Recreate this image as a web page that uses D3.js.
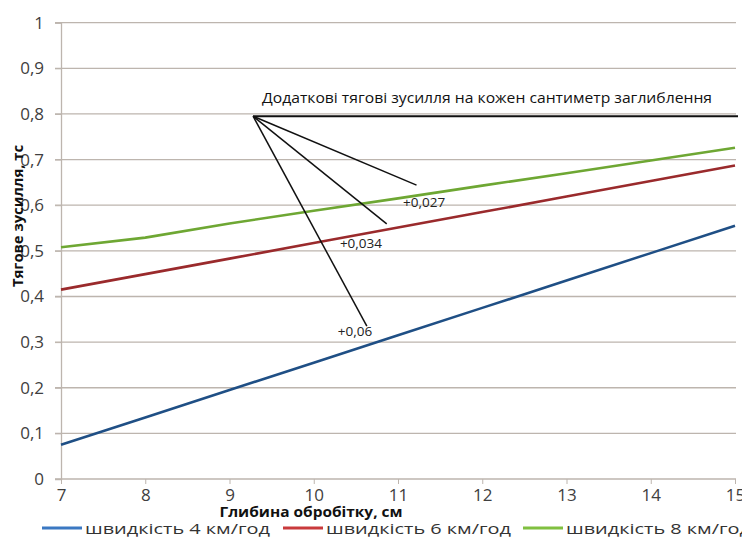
<!DOCTYPE html>
<html><head><meta charset="utf-8">
<script src="https://cdn.jsdelivr.net/npm/d3@7"></script>
<style>body{margin:0;background:#fff}svg{display:block}</style>
</head><body>
<script>
const depths = [7, 8, 9, 10, 11, 12, 13, 14, 15];
const speed4 = [0.075, 0.135, 0.195, 0.255, 0.315, 0.375, 0.435, 0.495, 0.555];
const speed6 = [0.415, 0.449, 0.483, 0.517, 0.551, 0.585, 0.619, 0.653, 0.687];
const speed8 = [0.508, 0.529, 0.560, 0.588, 0.615, 0.643, 0.670, 0.698, 0.726];
const seriesNames = ["швидкість 4 км/год", "швидкість 6 км/год", "швидкість 8 км/год"];
const yTicks = [0, 0.1, 0.2, 0.3, 0.4, 0.5, 0.6, 0.7, 0.8, 0.9, 1];
const xTicks = [7, 8, 9, 10, 11, 12, 13, 14, 15];
const refLevel = 0.795;
const refStart = 9.28;
const increments = ["+0,027", "+0,034", "+0,06"];
const arrowEnds = [[11.22, 0.644], [10.866, 0.559], [10.63, 0.335]];
const labelPos = [[11.31, 0.607], [10.56, 0.517], [10.49, 0.324]];
const noteText = "Додаткові тягові зусилля на кожен сантиметр  заглиблення";
const xTitle = "Глибина обробітку, см";
const yTitle = "Тягове зусилля, тс";

const W = 742, H = 537;
const svg = d3.select("body").append("svg").attr("width", W).attr("height", H);
const font = "'Open Sans', 'Noto Sans', sans-serif";
const x = d3.scaleLinear().domain([7, 15]).range([61, 735]);
const y = d3.scaleLinear().domain([0, 1]).range([479, 22.7]);
const lineColors = ["#1f4f85", "#9a2a2c", "#6ea733"];
const legendColors = ["#3b78c2", "#c93a3c", "#80c040"];

// gridlines
svg.append("g").selectAll("line").data(yTicks).join("line")
  .attr("x1", 55).attr("x2", 736)
  .attr("y1", d => y(d)).attr("y2", d => y(d))
  .attr("stroke", "#bdb5ae").attr("stroke-width", 1.3);

// y axis
const yAxis = svg.append("g").attr("transform", "translate(61,0)")
  .call(d3.axisLeft(y).tickValues(yTicks).tickSize(6).tickPadding(11)
    .tickFormat(d => d3.format(".1~f")(d).replace(".", ",")));
yAxis.select(".domain").attr("stroke", "#bdb5ae").attr("stroke-width", 1.3);
yAxis.selectAll(".tick line").attr("stroke", "#bdb5ae");
yAxis.selectAll("text").attr("font-family", font).attr("font-size", 17).attr("fill", "#404040");

// x axis
const xAxis = svg.append("g").attr("transform", "translate(0,479)")
  .call(d3.axisBottom(x).tickValues(xTicks).tickSize(5).tickPadding(5).tickFormat(d3.format("d")));
xAxis.select(".domain").remove();
xAxis.selectAll(".tick line").attr("stroke", "#bdb5ae");
xAxis.selectAll("text").attr("font-family", font).attr("font-size", 17).attr("fill", "#404040");

// series
const series = [speed4, speed6, speed8];
const line = d3.line().x((d, i) => x(depths[i])).y(d => y(d));
series.forEach((s, k) => {
  svg.append("path").datum(s).attr("d", line)
    .attr("fill", "none").attr("stroke", lineColors[k]).attr("stroke-width", 2.6);
});

// reference line at 0.8
svg.append("line").attr("x1", x(refStart)).attr("x2", x(15) + 3)
  .attr("y1", y(refLevel)).attr("y2", y(refLevel))
  .attr("stroke", "#111").attr("stroke-width", 2);

// annotation rays
arrowEnds.forEach(e => {
  svg.append("line").attr("x1", x(refStart)).attr("y1", y(refLevel))
    .attr("x2", x(e[0])).attr("y2", y(e[1]))
    .attr("stroke", "#111").attr("stroke-width", 1.5);
});
labelPos.forEach((p, i) => {
  svg.append("text").attr("x", x(p[0])).attr("y", y(p[1]))
    .attr("text-anchor", "middle").attr("dominant-baseline", "central")
    .attr("font-family", font).attr("font-size", 13.5).attr("fill", "#222")
    .text(increments[i]);
});

svg.append("text").attr("x", 262).attr("y", 97)
  .attr("dominant-baseline", "central")
  .attr("font-family", font).attr("font-size", 14).attr("fill", "#111")
  .attr("textLength", 450).attr("lengthAdjust", "spacingAndGlyphs")
  .text(noteText);

// axis titles
svg.append("text").attr("x", 311).attr("y", 511)
  .attr("text-anchor", "middle").attr("dominant-baseline", "central")
  .attr("font-family", font).attr("font-weight", "bold").attr("font-size", 15).attr("fill", "#111")
  .attr("textLength", 183).attr("lengthAdjust", "spacingAndGlyphs")
  .text(xTitle);
svg.append("text").attr("transform", "translate(17,216) rotate(-90)")
  .attr("text-anchor", "middle").attr("dominant-baseline", "central")
  .attr("font-family", font).attr("font-weight", "bold").attr("font-size", 15).attr("fill", "#111")
  .attr("textLength", 142).attr("lengthAdjust", "spacingAndGlyphs")
  .text(yTitle);

// legend
const legX = [42, 283, 523];
seriesNames.forEach((n, i) => {
  svg.append("line").attr("x1", legX[i]).attr("x2", legX[i] + 40)
    .attr("y1", 528).attr("y2", 528).attr("stroke", legendColors[i]).attr("stroke-width", 3);
  svg.append("text").attr("x", legX[i] + 43).attr("y", 528)
    .attr("dominant-baseline", "central")
    .attr("font-family", font).attr("font-size", 15).attr("fill", "#333")
    .attr("textLength", 185).attr("lengthAdjust", "spacingAndGlyphs")
    .text(n);
});
</script>
</body></html>
